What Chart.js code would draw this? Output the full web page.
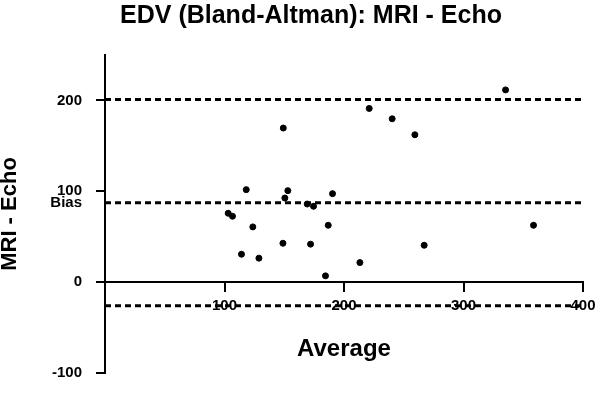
<!DOCTYPE html>
<html>
<head>
<meta charset="utf-8">
<script src="https://cdn.jsdelivr.net/npm/chart.js@4.4.1/dist/chart.umd.min.js"></script>
<style>
  html, body { margin: 0; padding: 0; background: #fff; }
  canvas { display: block; }
</style>
</head>
<body>
<canvas id="ba_chart" width="600" height="393"></canvas>
<script>
// average of the two methods (x) and MRI - Echo difference (y)
const averages = [103.1, 106.7, 114.2, 118.2, 123.7, 128.8, 148.9, 149.2, 150.5, 153.0,
                  169.2, 172.0, 174.5, 184.5, 186.8, 190.4, 213.3, 221.1, 240.3, 259.3,
                  267.1, 335.2, 358.6];
const differences = [75.8, 72.5, 30.7, 101.8, 60.8, 26.4, 42.8, 169.6, 92.6, 100.7,
                     86.0, 41.8, 83.5, 6.9, 62.6, 97.4, 21.5, 191.2, 179.8, 162.2,
                     40.6, 211.6, 62.6];

const bias = 87.5;
const upper_limit = 201;
const lower_limit = -26;

const x_ticks = [100, 200, 300, 400];
const y_ticks = [-100, 0, 100, 200];

const points = [];
averages.forEach((a, i) => {
  points.push({ x: a, y: differences[i] });
});

function hline(v) {
  return {
    type: "line",
    data: [{ x: 0, y: v }, { x: 400, y: v }],
    borderColor: "#000",
    borderWidth: 3,
    borderDash: [6, 4],
    pointRadius: 0,
    fill: false,
  };
}

const bold = (size) => ({ family: "'Liberation Sans', Arial, sans-serif", size: size, weight: "bold" });

const ctx = document.getElementById("ba_chart");

const ba_chart = new Chart(ctx, {
  type: "scatter",
  data: {
    datasets: [
      {
        data: points,
        backgroundColor: "#000",
        borderColor: "#000",
        pointRadius: 3,
      },
      hline(upper_limit),
      hline(bias),
      hline(lower_limit),
    ],
  },
  options: {
    responsive: false,
    animation: false,
    layout: {
      padding: { left: 39, right: 17, top: 0, bottom: 20 },
    },
    plugins: {
      legend: { display: false },
      tooltip: { enabled: false },
      title: {
        display: true,
        text: "EDV (Bland-Altman): MRI - Echo",
        color: "#000",
        font: bold(25),
        padding: { top: 1, bottom: 24 },
      },
    },
    scales: {
      x: {
        type: "linear",
        position: { y: 0 },
        min: 0,
        max: 400,
        afterBuildTicks: (scale) => {
          scale.ticks = [0].concat(x_ticks).map((v) => ({ value: v }));
        },
        afterFit: (scale) => {
          scale.paddingLeft = 0;
          scale.paddingRight = 0;
        },
        ticks: {
          autoSkip: false,
          color: "#000",
          font: bold(15),
          padding: 6,
          maxRotation: 0,
          callback: (v) => (v === 0 ? "" : v),
        },
        grid: {
          drawOnChartArea: false,
          color: "#000",
          lineWidth: 2,
          tickLength: 9,
        },
        border: { display: true, color: "#000", width: 2 },
        title: {
          display: true,
          text: "Average",
          color: "#000",
          font: bold(24),
          padding: { top: 14, bottom: 0 },
        },
      },
      y: {
        type: "linear",
        position: "left",
        min: -100,
        max: 250,
        afterBuildTicks: (scale) => {
          scale.ticks = y_ticks.concat([bias]).sort((a, b) => a - b).map((v) => ({ value: v }));
        },
        afterFit: (scale) => {
          scale.width = 66;
          scale.paddingTop = 0;
          scale.paddingBottom = 0;
        },
        ticks: {
          autoSkip: false,
          color: "#000",
          font: bold(15),
          padding: 14,
          callback: (v) => (v === bias ? "Bias" : v),
        },
        grid: {
          drawOnChartArea: false,
          color: "#000",
          lineWidth: 2,
          tickLength: 9,
          tickColor: (c) => (c.tick && c.tick.value === bias ? "rgba(0,0,0,0)" : "#000"),
        },
        border: { display: true, color: "#000", width: 2 },
        title: {
          display: true,
          text: "MRI - Echo",
          color: "#000",
          font: bold(22),
          padding: { top: -42, bottom: 0 },
        },
      },
    },
  },
});
</script>
</body>
</html>
